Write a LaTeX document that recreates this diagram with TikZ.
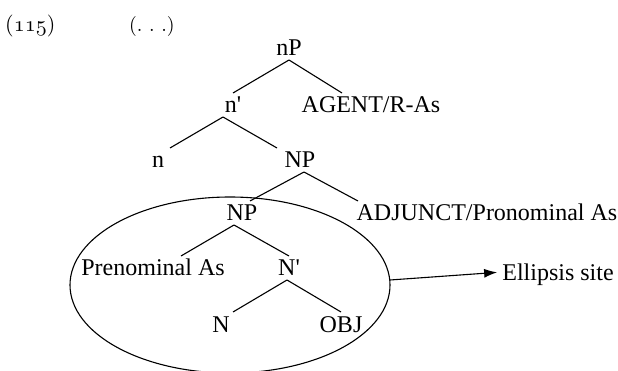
\documentclass[tikz,border=0pt]{standalone}
\usepackage{fontspec}
\usepackage{tikz}
\usetikzlibrary{arrows.meta,shapes.geometric}
\newfontfamily\treefont{Liberation Serif}
\newcommand{\exnum}[1]{{\usefont{OML}{cmm}{m}{it}#1}}

\begin{document}
\begin{tikzpicture}[x=1pt,y=-1pt,
    every node/.style={inner sep=0pt,outer ysep=4pt,text height=16pt,text depth=0pt,
      font=\treefont\fontsize{24}{28}\selectfont},
    exlabel/.style={anchor=base west,text height=,font=\rmfamily\normalsize},
    branch/.style={line width=1.1pt}]
    \useasboundingbox (0,0) rectangle (618,371);

    % Example number
    \node[exlabel] (ex)   at (5,32)   {\scalebox{2.2}{(\exnum{115})}};
    \node[exlabel] (dots) at (129,32) {\scalebox{2}{(.\,\,.\,\,.)}};

    % Place tree labels
    \node (nP)    at (289,48)  {nP};
    \node (nbar)  at (233,105) {n\textquotesingle};
    \node (agent) at (371,105) {AGENT/R-As};
    \node (n)     at (158,160) {n};
    \node (NP)    at (300,160) {NP};
    \node (NPin)  at (242,213) {NP};
    \node (adj)   at (487,213) {ADJUNCT/Pronominal As};
    \node (pren)  at (153,268) {Prenominal As};
    \node (Nbar)  at (289,268) {N\textquotesingle};
    \node (N)     at (221,324) {N};
    \node (obj)   at (341,324) {OBJ};

    % Branches, with small shifts off the label centres
    \foreach \u/\su/\v/\sv in {nP/0/nbar/0, nP/0/agent/-29, nbar/-10/n/12, nbar/-10/NP/-23,
        NP/4/NPin/8, NP/4/adj/-129, NPin/-8/pren/28, NPin/-8/Nbar/0, Nbar/-2/N/12, Nbar/-2/obj/0} {
      \draw[branch] ([xshift=\su pt]\u.south) -- ([xshift=\sv pt]\v.north);
    }

    % Circled part and the arrow
    \node[draw,ellipse,branch,outer sep=0pt,minimum width=320pt,minimum height=176pt] (site) at (230,285) {};
    \node (ell) at (558,272) {Ellipsis site};
    \draw[branch,-{Latex[length=13pt,width=9pt]},shorten >=5pt] ([yshift=5pt]site.east) -- (ell.west);

  \end{tikzpicture}
\end{document}
